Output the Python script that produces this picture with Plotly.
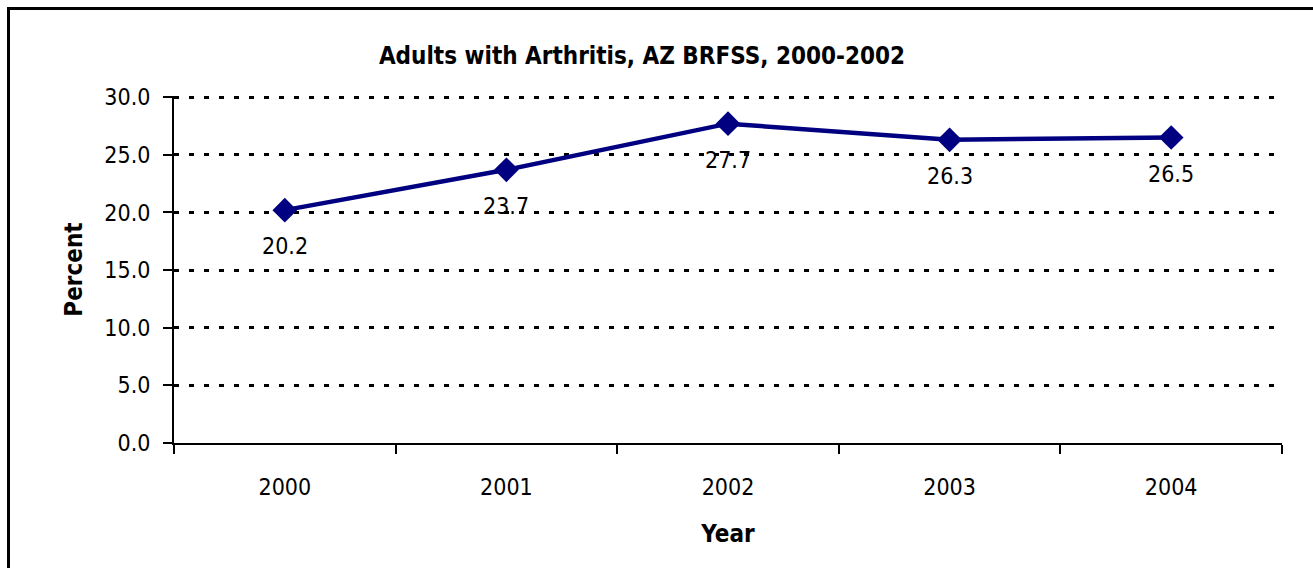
import plotly.graph_objects as go

# Arthritis prevalence among adults, AZ BRFSS
years = ["2000", "2001", "2002", "2003", "2004"]
percent = [20.2, 23.7, 27.7, 26.3, 26.5]
y_ticks = [0, 5, 10, 15, 20, 25, 30]

FONT = "DejaVu Sans Condensed, Liberation Sans, sans-serif"
NAVY = "#000080"

fig = go.Figure()
fig.add_trace(go.Scatter(
    x=years, y=percent, mode="lines+markers",
    line=dict(color=NAVY, width=4.5),
    marker=dict(symbol="diamond", size=19, color=NAVY),
    hoverinfo="skip", showlegend=False,
))

# value labels under each point (category index keeps the label on its year)
for i, v in enumerate(percent):
    fig.add_annotation(x=i, y=v, xref="x", yref="y", text=f"{v:.1f}",
                       showarrow=False, yshift=-36,
                       font=dict(family=FONT, size=23, color="black"))

W, H = 1313, 568
L, R, T, B = 174, 31, 96, 125
pw, ph = W - L - R, H - T - B

def px(x):
    return (x - L) / pw

def py(y):
    return (H - B - y) / ph

# outer chart frame: left and top edges
frame = dict(color="black", width=3)
fig.add_shape(type="line", xref="paper", yref="paper",
              x0=px(8.5), x1=px(8.5), y0=py(600), y1=py(7), line=frame)
fig.add_shape(type="line", xref="paper", yref="paper",
              x0=px(7), x1=px(1313), y0=py(8.5), y1=py(8.5), line=frame)

fig.update_layout(
    width=W, height=H,
    margin=dict(l=L, r=R, t=T, b=B),
    paper_bgcolor="white", plot_bgcolor="white",
    font=dict(family=FONT, size=23, color="black"),
    title=dict(text="<b>Adults with Arthritis, AZ BRFSS, 2000-2002</b>",
               x=px(642), xref="paper", xanchor="center",
               y=1 - 56 / H, yref="container", yanchor="middle",
               font=dict(family=FONT, size=24, color="black")),
    xaxis=dict(
        type="category", range=[-0.5, 4.5], tickson="boundaries",
        ticks="outside", ticklen=9, tickwidth=2, tickcolor="black",
        showline=True, linecolor="black", linewidth=2,
        showgrid=False, zeroline=False, ticklabelstandoff=22,
        tickfont=dict(family=FONT, size=23),
        title=dict(text="<b>Year</b>", standoff=27,
                   font=dict(family=FONT, size=24)),
    ),
    yaxis=dict(
        range=[0, 30.1], tickvals=y_ticks, tickformat=".1f",
        ticks="outside", ticklen=9, tickwidth=2, tickcolor="black",
        showline=True, linecolor="black", linewidth=2,
        showgrid=True, gridcolor="black", gridwidth=2.5, griddash="5px,10px",
        zeroline=False, ticklabelstandoff=8,
        tickfont=dict(family=FONT, size=23),
        title=dict(text="<b>Percent</b>", standoff=15,
                   font=dict(family=FONT, size=24)),
    ),
)

fig.write_html("out.html")
